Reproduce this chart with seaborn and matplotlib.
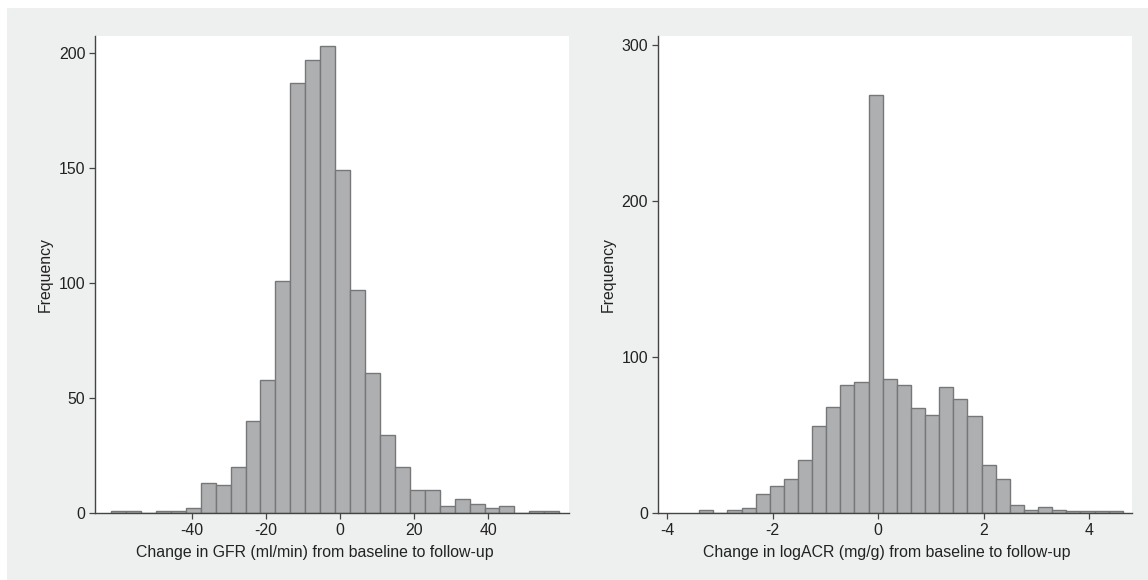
import numpy as np
import pandas as pd
import matplotlib
matplotlib.use("Agg")
import matplotlib.pyplot as plt
import seaborn as sns
from matplotlib.patches import Rectangle

# change in GFR (ml/min): 30 bins
gfr_start = -61.75
gfr_width = 4.03
gfr_counts = [1, 1, 0, 1, 1, 2, 13, 12, 20, 40, 58, 101, 187, 197, 203,
              149, 97, 61, 34, 20, 10, 10, 3, 6, 4, 2, 3, 0, 1, 1]

# change in logACR (mg/g): 30 bins
acr_start = -3.39
acr_width = 0.2675
acr_counts = [2, 0, 2, 3, 12, 17, 22, 34, 56, 68, 82, 84, 268, 86, 82,
              67, 63, 81, 73, 62, 31, 22, 5, 2, 4, 2, 1, 1, 1, 1]

gfr_xticks = [-40, -20, 0, 20, 40]
gfr_yticks = [0, 50, 100, 150, 200]
acr_xticks = [-4, -2, 0, 2, 4]
acr_yticks = [0, 100, 200, 300]

gfr_xlabel = "Change in GFR (ml/min) from baseline to follow-up"
acr_xlabel = "Change in logACR (mg/g) from baseline to follow-up"

BAR = "#aeafb1"
EDGE = "#767779"
BG = "#eef0ef"
AXC = "#444444"
FS = 11.4

sns.set_style("white")
plt.rcParams["font.family"] = ["Liberation Sans", "DejaVu Sans"]

fig = plt.figure(figsize=(11.48, 5.80), dpi=100, facecolor="white")
fig.patches.append(Rectangle((7 / 1148, 0), 1, 1 - 8 / 580, transform=fig.transFigure,
                             facecolor=BG, edgecolor="none", zorder=-1))

ax1 = fig.add_axes([95 / 1148, 67 / 580, 474 / 1148, 477 / 580])
ax2 = fig.add_axes([657.7 / 1148, 67 / 580, 474.3 / 1148, 477 / 580])


def draw(ax, start, width, counts, xticks, yticks, xlim, ylim, xlabel, xlab_pos):
    n = len(counts)
    edges = start + width * np.arange(n + 1)
    df = pd.DataFrame({"x": (edges[:-1] + edges[1:]) / 2, "n": counts})
    sns.histplot(data=df, x="x", weights="n", bins=list(edges), ax=ax,
                 color=BAR, edgecolor=EDGE, linewidth=1.0, alpha=1.0)
    ax.set_facecolor("white")
    ax.set_xlim(*xlim)
    ax.set_ylim(*ylim)
    ax.set_xticks(xticks)
    ax.set_yticks(yticks)
    ax.set_xticklabels([str(t) for t in xticks])
    ax.set_yticklabels([str(t) for t in yticks])
    for s in ["top", "right"]:
        ax.spines[s].set_visible(False)
    for s in ["left", "bottom"]:
        ax.spines[s].set_color(AXC)
        ax.spines[s].set_linewidth(1.0)
    ax.tick_params(axis="both", bottom=True, left=True, direction="out",
                   length=4, width=0.9, color=AXC, labelsize=FS,
                   labelcolor="#222222", pad=3)
    ax.set_xlabel(xlabel, fontsize=FS, color="#222222")
    ax.xaxis.set_label_coords(xlab_pos, -0.068)
    ax.set_ylabel("Frequency", fontsize=FS, color="#222222", labelpad=4)


draw(ax1, gfr_start, gfr_width, gfr_counts, gfr_xticks, gfr_yticks,
     (-66.1, 61.8), (0, 207.4), gfr_xlabel, 0.464)
draw(ax2, acr_start, acr_width, acr_counts, acr_xticks, acr_yticks,
     (-4.176, 4.81), (0, 305.8), acr_xlabel, 0.483)

fig.savefig("out.png", dpi=100, facecolor=fig.get_facecolor())
